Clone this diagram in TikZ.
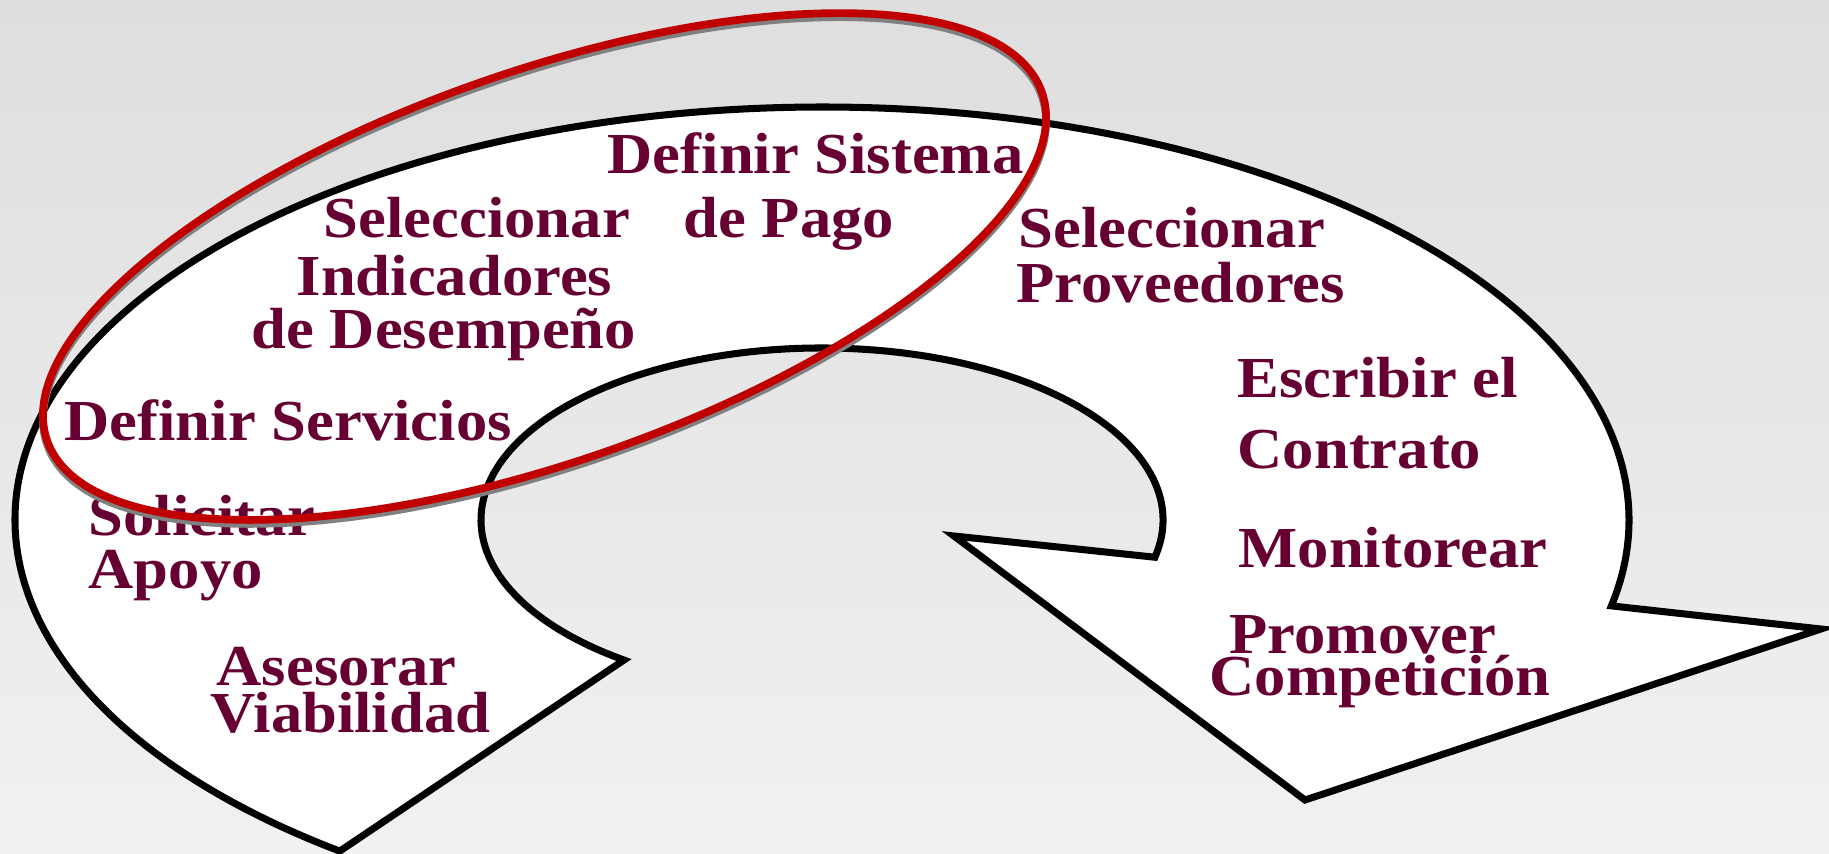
\documentclass[tikz,border=0pt]{standalone}
\usepackage{fontspec}
\usetikzlibrary{calc}
\newfontfamily\stagefont{Liberation Serif}[FakeStretch=1.08]
\definecolor{maroon}{RGB}{102,0,51}
\definecolor{ringred}{RGB}{192,0,0}
\definecolor{bgtop}{RGB}{222,222,222}
\definecolor{bgbottom}{RGB}{241,241,241}
\begin{document}
\begin{tikzpicture}
            \tikzstyle{band} = [draw=black, line width=2pt, fill=white, line join=miter]
            \tikzstyle{ring} = [draw=ringred, line width=2.2pt]
            \tikzstyle{ringshadow} = [draw=black!50, line width=2.2pt]
            \tikzstyle{stage} = [anchor=base west, inner sep=0pt, text=maroon, font=\stagefont\bfseries\fontsize{16.5}{18}\selectfont]

            \useasboundingbox (0, 0) rectangle (18.29, 8.53);
            \shade[top color=bgtop, bottom color=bgbottom] (0, 0) rectangle (18.29, 8.53);

            % curved arrow
            \coordinate (c) at (8.22, 3.33);
            \draw[band] (c) ++(233.3:8.07cm and 4.13cm)
                arc[start angle=233.3, end angle=-12, x radius=8.07, y radius=4.13]
                -- (18.21, 2.24) -- (13.05, 0.53) -- (9.54, 3.17)
                -- ($(c) + (-12.5:3.41cm and 1.72cm)$)
                arc[start angle=-12.5, end angle=234.5, x radius=3.41, y radius=1.72]
                -- cycle;

            % stages
            \node[stage] (sistema1) at (6.07, 6.80) {Definir Sistema};
            \node[stage] (sistema2) at (6.83, 6.16) {de Pago};
            \node[stage] (indic1) at (3.23, 6.16) {Seleccionar};
            \node[stage] (indic2) at (2.96, 5.58) {Indicadores};
            \node[stage] (indic3) at (2.51, 5.05) {de Desempeño};
            \node[stage] (servicios) at (0.64, 4.13) {Definir Servicios};
            \node[stage] (apoyo1) at (0.88, 3.18) {Solicitar};
            \node[stage] (apoyo2) at (0.88, 2.65) {Apoyo};
            \node[stage] (viab1) at (2.16, 1.68) {Asesorar};
            \node[stage] (viab2) at (2.10, 1.21) {Viabilidad};
            \node[stage] (prov1) at (10.18, 6.06) {Seleccionar};
            \node[stage] (prov2) at (10.16, 5.51) {Proveedores};
            \node[stage] (contrato1) at (12.37, 4.56) {Escribir el};
            \node[stage] (contrato2) at (12.37, 3.85) {Contrato};
            \node[stage] (monitor) at (12.38, 2.86) {Monitorear};
            \node[stage] (compet1) at (12.29, 2.00) {Promover};
            \node[stage] (compet2) at (12.09, 1.58) {Competición};

            % red ring
            \draw[ringshadow] (5.445, 5.825) ellipse[x radius=5.27, y radius=1.95, rotate=19.3];
            \draw[ring] (5.445, 5.865) ellipse[x radius=5.27, y radius=1.95, rotate=19.3];
\end{tikzpicture}
\end{document}
